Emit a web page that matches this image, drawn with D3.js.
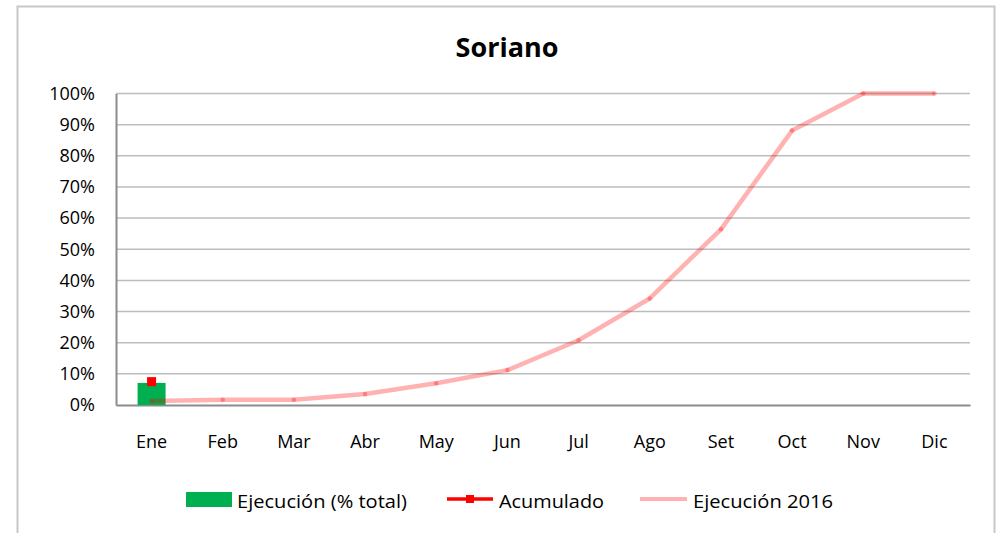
<!DOCTYPE html>
<html>
<head>
<meta charset="utf-8">
<script src="https://cdn.jsdelivr.net/npm/d3@7"></script>
<style>
  html, body { margin: 0; padding: 0; background: #fff; }
  svg { display: block; font-family: "Open Sans", "Noto Sans", sans-serif; }
</style>
</head>
<body>
<svg id="chart" width="999" height="533"></svg>
<script>
const months = ["Ene", "Feb", "Mar", "Abr", "May", "Jun", "Jul", "Ago", "Set", "Oct", "Nov", "Dic"];
// Ejecución (% total) — only January reported
const ejecucion = [7.1];
// Acumulado
const acumulado = [7.5];
// Ejecución 2016 (cumulative %)
const ejecucion2016 = [1.3, 1.7, 1.7, 3.5, 7.0, 11.2, 20.8, 34.2, 56.4, 88.1, 100, 100];
const yTicks = [0, 10, 20, 30, 40, 50, 60, 70, 80, 90, 100];

const svg = d3.select("#chart");
const W = 999, H = 533;
const plot = { left: 116, right: 970, top: 93.5, bottom: 405 };

// outer frame (bottom edge runs past the picture)
svg.append("rect")
  .attr("x", 17.5).attr("y", 6.5)
  .attr("width", 977).attr("height", 560)
  .attr("fill", "#fff")
  .attr("stroke", "#c8c8c8").attr("stroke-width", 2);

svg.append("text")
  .attr("x", 507).attr("y", 57)
  .attr("text-anchor", "middle")
  .attr("font-size", 27).attr("font-weight", "bold")
  .attr("fill", "#000")
  .text("Soriano");

const x = d3.scaleBand().domain(months).range([plot.left, plot.right]);
const y = d3.scaleLinear().domain([0, 100]).range([plot.bottom, plot.top]);
const cx = (m) => x(m) + x.bandwidth() / 2;

// gridlines
svg.append("g")
  .selectAll("line")
  .data(yTicks.filter((t) => t > 0))
  .join("line")
  .attr("x1", plot.left).attr("x2", plot.right)
  .attr("y1", (d) => y(d)).attr("y2", (d) => y(d))
  .attr("stroke", "#bdbdbd").attr("stroke-width", 1.5);

// y axis
const yAxis = svg.append("g")
  .attr("transform", `translate(${plot.left},0)`)
  .call(d3.axisLeft(y).tickValues(yTicks).tickSize(0).tickPadding(21).tickFormat((d) => d + "%"));
yAxis.select(".domain").attr("stroke", "#8c8c8c").attr("stroke-width", 2);
yAxis.selectAll("text").attr("font-size", 18).attr("fill", "#000")
  .attr("font-family", "'Open Sans', sans-serif");

// x axis
const xAxis = svg.append("g")
  .attr("transform", `translate(0,${plot.bottom})`)
  .call(d3.axisBottom(x).tickSize(0).tickPadding(30));
xAxis.select(".domain").attr("stroke", "#8c8c8c").attr("stroke-width", 2);
xAxis.selectAll("text").attr("font-size", 18).attr("fill", "#000")
  .attr("font-family", "'Open Sans', sans-serif");

// bars
const barW = 28;
svg.append("g")
  .selectAll("rect")
  .data(ejecucion)
  .join("rect")
  .attr("x", (d, i) => cx(months[i]) - barW / 2)
  .attr("y", (d) => y(d))
  .attr("width", barW)
  .attr("height", (d) => y(0) - y(d))
  .attr("fill", "#00b050");

// Ejecución 2016 line
const line = d3.line().x((d, i) => cx(months[i])).y((d) => y(d));
svg.append("path")
  .datum(ejecucion2016)
  .attr("d", line)
  .attr("fill", "none")
  .attr("stroke", "#ff0000").attr("stroke-opacity", 0.3)
  .attr("stroke-width", 4.5)
  .attr("stroke-linejoin", "round");
svg.append("g")
  .selectAll("circle")
  .data(ejecucion2016)
  .join("circle")
  .attr("cx", (d, i) => cx(months[i]))
  .attr("cy", (d) => y(d))
  .attr("r", 2.3)
  .attr("fill", "#ff0000").attr("fill-opacity", 0.3);

// Acumulado markers
svg.append("g")
  .selectAll("rect")
  .data(acumulado)
  .join("rect")
  .attr("x", (d, i) => cx(months[i]) - 4.5)
  .attr("y", (d) => y(d) - 4.5)
  .attr("width", 9).attr("height", 9)
  .attr("fill", "#ff0000");

// legend
const legend = svg.append("g").attr("font-size", 19).attr("fill", "#000");
legend.append("rect").attr("x", 186).attr("y", 492).attr("width", 46).attr("height", 15).attr("fill", "#00b050");
legend.append("text").attr("x", 237).attr("y", 508).attr("textLength", 170).attr("lengthAdjust", "spacingAndGlyphs").text("Ejecución (% total)");

legend.append("line").attr("x1", 447).attr("x2", 493).attr("y1", 499).attr("y2", 499)
  .attr("stroke", "#ff0000").attr("stroke-width", 3.5);
legend.append("rect").attr("x", 466).attr("y", 495).attr("width", 8).attr("height", 8).attr("fill", "#ff0000");
legend.append("text").attr("x", 499).attr("y", 508).attr("textLength", 105).attr("lengthAdjust", "spacingAndGlyphs").text("Acumulado");

legend.append("line").attr("x1", 640).attr("x2", 687).attr("y1", 499).attr("y2", 499)
  .attr("stroke", "#ff0000").attr("stroke-opacity", 0.3).attr("stroke-width", 4);
legend.append("text").attr("x", 693).attr("y", 508).attr("textLength", 140).attr("lengthAdjust", "spacingAndGlyphs").text("Ejecución 2016");
</script>
</body>
</html>
